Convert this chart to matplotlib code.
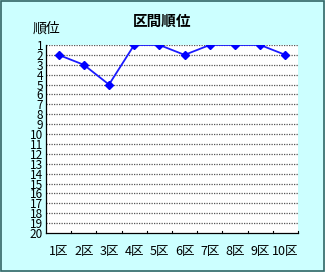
import matplotlib
matplotlib.use("Agg")
import matplotlib.pyplot as plt

plt.rcParams['font.family'] = ['Noto Sans CJK JP', 'DejaVu Sans']

sections = ['1区', '2区', '3区', '4区', '5区', '6区', '7区', '8区', '9区', '10区']
ranks = [2, 3, 5, 1, 1, 2, 1, 1, 1, 2]
rank_ticks = list(range(1, 21))

bg = '#ccffff'

fig = plt.figure(figsize=(3.25, 2.72), dpi=100, facecolor=bg)
ax = fig.add_axes([0.1415, 0.1434, 0.7754, 0.6912])
ax.set_facecolor('white')

x = [i + 0.5 for i in range(len(sections))]
ax.plot(x, ranks, color='#1a1aff', lw=1.3, marker='D', ms=4.5,
        mfc='#0000ff', mec='#0000ff', zorder=3)

ax.set_xlim(0, len(sections))
ax.set_ylim(20, 1)
ax.set_yticks(rank_ticks)
ax.set_yticklabels([str(r) for r in rank_ticks], fontsize=8.5)
ax.tick_params(axis='y', length=0, pad=2)
ax.set_xticks(x)
ax.set_xticklabels(sections, fontsize=9)
ax.tick_params(axis='x', length=0, pad=9)
# small inward ticks at category boundaries
for b in range(1, len(sections) + 1):
    ax.plot([b, b], [20, 19.75], color='black', lw=0.8, clip_on=False)

for r in rank_ticks[:-1]:
    ax.axhline(r, color='#555555', lw=0.9, ls=(0, (1, 1)), zorder=1)

for s in ['top', 'right']:
    ax.spines[s].set_visible(False)
ax.spines['left'].set_color('black')
ax.spines['bottom'].set_color('black')
ax.spines['left'].set_linewidth(0.9)
ax.spines['bottom'].set_linewidth(0.9)

fig.text(0.5, 0.925, '区間順位', ha='center', va='center', fontsize=10.5, fontweight='bold')
fig.text(0.10, 0.893, '順位', ha='left', va='center', fontsize=10)

# outer border
fig.patches.append(plt.Rectangle((0.002, 0.002), 0.996, 0.996, transform=fig.transFigure,
                                 fill=False, edgecolor='#336666', lw=1.2))

fig.savefig('out.png', dpi=100, facecolor=bg)
